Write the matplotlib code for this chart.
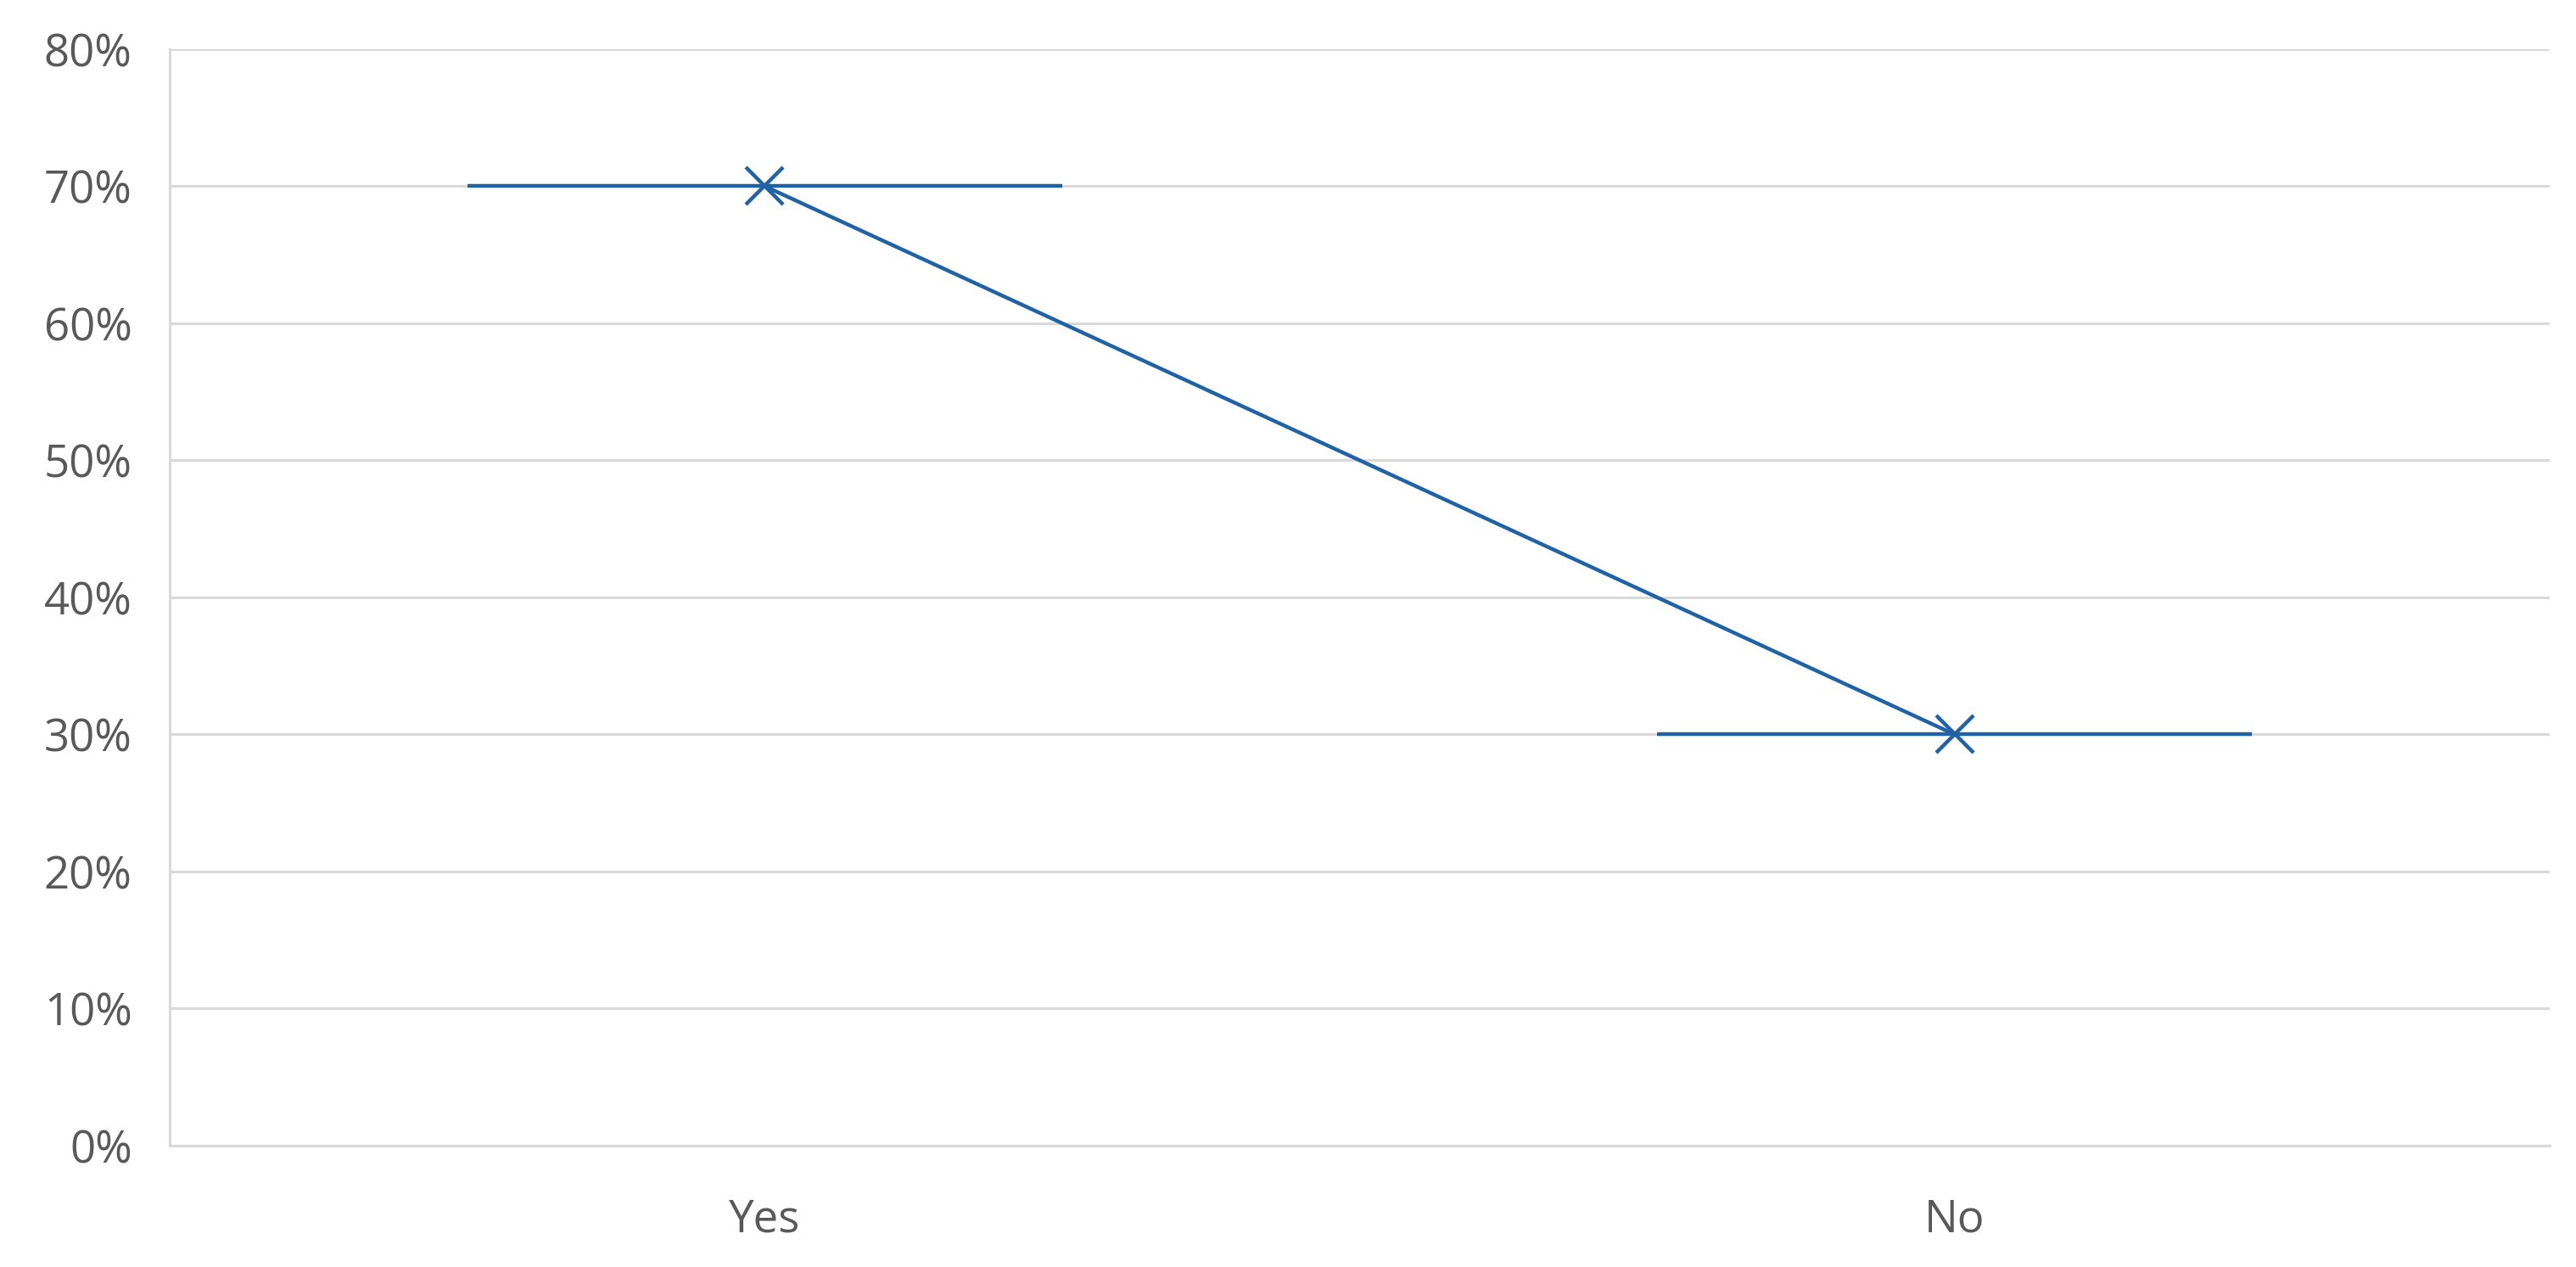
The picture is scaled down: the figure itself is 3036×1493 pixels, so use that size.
import matplotlib
matplotlib.use("Agg")
import matplotlib.pyplot as plt
import numpy as np
from matplotlib.ticker import PercentFormatter

# categories and share of answers
categories = ['Yes', 'No']
shares = [0.70, 0.30]
bar_halfwidth = 0.25

blue = '#1f62a5'
grid = '#d9d9d9'
label_col = '#595959'

fig = plt.figure(figsize=(30.36, 14.93), dpi=100)
ax = fig.add_axes([0.0659, 0.0958, 0.9239, 0.8654])

x = np.arange(len(categories))
ax.errorbar(x, shares, xerr=bar_halfwidth, color=blue, lw=3.2,
            marker='x', markersize=32, mew=3.2, capsize=0, elinewidth=3.2,
            zorder=3)

ax.set_xlim(-0.5, len(categories) - 0.5)
ax.set_ylim(0, 0.8)
ax.set_yticks(np.arange(0, 0.81, 0.1))
ax.yaxis.set_major_formatter(PercentFormatter(1.0, decimals=0))
ax.set_xticks(x)
ax.set_xticklabels(categories)

ax.grid(axis='y', color=grid, lw=2.2, zorder=0)
for side in ['top', 'right']:
    ax.spines[side].set_visible(False)
for side in ['left', 'bottom']:
    ax.spines[side].set_color(grid)
    ax.spines[side].set_linewidth(2.2)

ax.tick_params(length=0, labelsize=38, labelcolor=label_col)
ax.tick_params(axis='y', pad=32)
ax.tick_params(axis='x', pad=44)
for lab in ax.get_xticklabels() + ax.get_yticklabels():
    lab.set_family('Open Sans')

fig.savefig('out.png', dpi=100)
